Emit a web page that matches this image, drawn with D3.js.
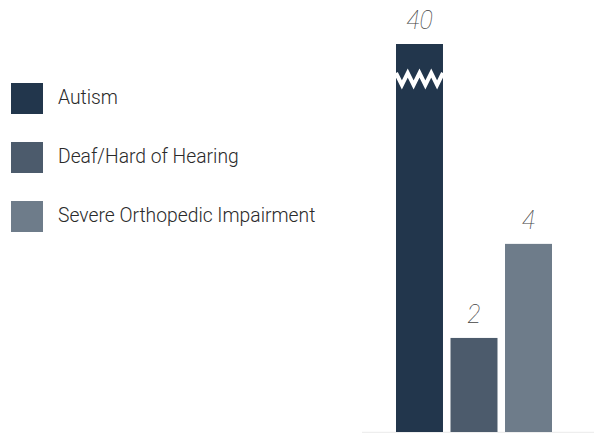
<!DOCTYPE html>
<html>
<head>
<meta charset="utf-8">
<script src="https://cdn.jsdelivr.net/npm/d3@7"></script>
<style>
  html, body { margin: 0; padding: 0; background: #fff; }
  svg { display: block; font-family: Roboto, "Open Sans", sans-serif; }
  .legend-label { font-size: 19.3px; fill: #2a2a2a; font-weight: 300; }
  .value-label { font-size: 25px; fill: #444; font-weight: 100; font-style: italic; }
</style>
</head>
<body>
<svg width="594" height="433"></svg>
<script>
"use strict";

const categories = ["Autism", "Deaf/Hard of Hearing", "Severe Orthopedic Impairment"];
const values = [40, 2, 4];
const colors = ["#22364c", "#4c5b6c", "#6e7c8a"];
// axis is cut off at this value, taller bars get a break mark
const axisMax = 8.25;

const svg = d3.select("svg");

const x = d3.scaleBand()
  .domain(categories)
  .range([396, 552])
  .paddingInner(0.138)
  .paddingOuter(0);

const y = d3.scaleLinear()
  .domain([0, axisMax])
  .range([432, 44])
  .clamp(true);

// baseline
svg.append("line")
  .attr("x1", 362)
  .attr("x2", 594)
  .attr("y1", y(0) + 0.5)
  .attr("y2", y(0) + 0.5)
  .attr("stroke", "#eeeeee")
  .attr("stroke-width", 1.5);

const bars = svg.append("g");

bars.selectAll("rect")
  .data(categories)
  .enter()
  .append("rect")
  .attr("x", d => x(d))
  .attr("y", (d, i) => y(values[i]))
  .attr("width", x.bandwidth())
  .attr("height", (d, i) => y(0) - y(values[i]))
  .attr("fill", (d, i) => colors[i]);

// zigzag break on bars taller than the axis
categories.forEach((d, i) => {
  if (values[i] <= axisMax) return;
  const x0 = x(d);
  const w = x.bandwidth();
  const teeth = 4;
  const top = y(axisMax) + 29;
  const bottom = y(axisMax) + 41;
  const pts = [];
  for (let k = 0; k <= teeth * 2; k++) {
    pts.push([x0 + (w * k) / (teeth * 2), k % 2 === 0 ? top : bottom]);
  }
  bars.append("path")
    .attr("d", d3.line()(pts))
    .attr("fill", "none")
    .attr("stroke", "#fff")
    .attr("stroke-width", 4)
    .attr("stroke-linejoin", "miter");
});

svg.append("g")
  .selectAll("text")
  .data(categories)
  .enter()
  .append("text")
  .attr("class", "value-label")
  .attr("x", d => x(d) + x.bandwidth() / 2)
  .attr("y", (d, i) => y(values[i]) - 15)
  .attr("text-anchor", "middle")
  .text((d, i) => values[i]);

const legend = svg.append("g")
  .attr("transform", "translate(11,83)");

const item = legend.selectAll("g")
  .data(categories)
  .enter()
  .append("g")
  .attr("transform", (d, i) => `translate(0,${i * 59})`);

item.append("rect")
  .attr("width", 32)
  .attr("height", 31)
  .attr("fill", (d, i) => colors[i]);

item.append("text")
  .attr("class", "legend-label")
  .attr("x", 47)
  .attr("y", 21)
  .text(d => d);
</script>
</body>
</html>
